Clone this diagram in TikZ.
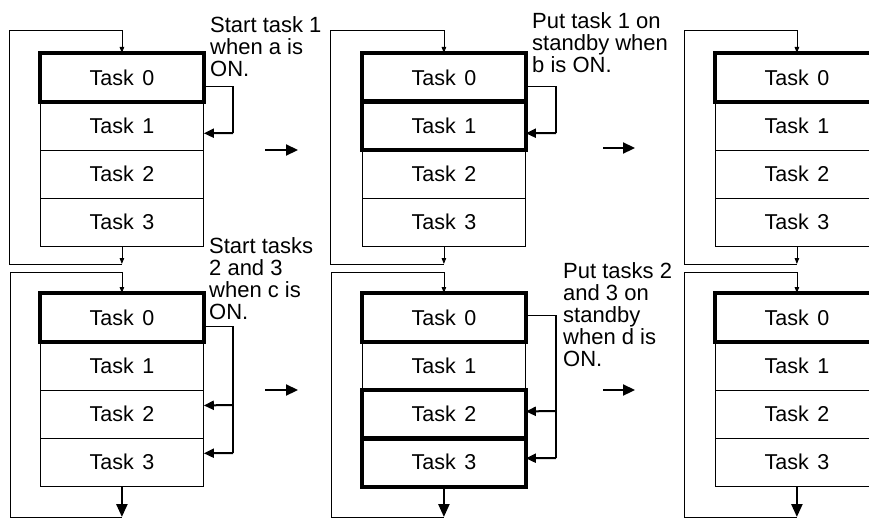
\documentclass[tikz,border=0pt]{standalone}
\usepackage{fontspec}
\setmainfont{Liberation Sans}
\usetikzlibrary{arrows.meta,calc}
\tikzset{
  row/.style={draw,line width=0.8pt,minimum width=163pt,minimum height=48.25pt,inner sep=0pt,anchor=north west,font=\fontsize{21.5}{22}\selectfont},
  activebox/.style={line width=4pt},
  looparr/.style={line width=0.8pt,-{Triangle[length=6pt,width=4.5pt]}},
  sideline/.style={line width=1.1pt},
  trig/.style={line width=2pt,-{Triangle[length=10pt,width=9pt]}},
  nextarr/.style={line width=2.2pt,-{Triangle[length=12pt,width=11pt]}},
  outarr/.style={line width=2.4pt,-{Triangle[length=13pt,width=11pt]}},
  lbl/.style={anchor=north west,inner sep=0pt,align=left,font=\fontsize{22}{22}\selectfont}
}
\newcommand\tblock[3]{%
  \foreach \i in {0,...,3} {\node[row] (#1\i) at ({#2},{#3+\i*48.25}) {Task\ \kern2.5pt\i};}%
}
\begin{document}
\begin{tikzpicture}[x=1pt,y=-1pt]
\fill[white] (0,0) rectangle (869,519);
\useasboundingbox (0,0) rectangle (869,519);

% task blocks
\tblock{A}{40}{53}
\tblock{B}{362}{53}
\tblock{C}{715}{53}
\tblock{D}{40}{293}
\tblock{E}{362}{293}
\tblock{F}{715}{293}

% active tasks
\draw[activebox] (A0.north west) rectangle (A0.south east);
\draw[activebox] (B0.north west) rectangle (B0.south east);
\draw[activebox] (B1.north west) rectangle (B1.south east);
\draw[activebox] (C0.north west) rectangle (C0.south east);
\draw[activebox] (D0.north west) rectangle (D0.south east);
\draw[activebox] (E0.north west) rectangle (E0.south east);
\draw[activebox] (E2.north west) rectangle (E2.south east);
\draw[activebox] (E3.north west) rectangle (E3.south east);
\draw[activebox] (F0.north west) rectangle (F0.south east);

% loop corners
\coordinate (Alb) at (9,264);   \coordinate (Alt) at (9,30.7);
\coordinate (Blb) at (330,264); \coordinate (Blt) at (330,30.7);
\coordinate (Clb) at (684,264); \coordinate (Clt) at (684,30.7);
\coordinate (Dlb) at (10,517);  \coordinate (Dlt) at (10,272);
\coordinate (Elb) at (331,517); \coordinate (Elt) at (331,272);
\coordinate (Flb) at (684,517); \coordinate (Flt) at (684,272);

% top loops
\foreach \n in {A,B,C} {
  \draw[looparr] (\n3.south) -- (\n3.south |- \n lb);
  \draw[looparr] (\n3.south |- \n lb) -- (\n lb) -- (\n lt) -- (\n0.north |- \n lt) -- (\n0.north);
}
% bottom loops
\foreach \n in {D,E,F} {
  \draw[outarr] (\n3.south) -- (\n3.south |- \n lb);
  \draw[looparr] (\n3.south |- \n lb) -- (\n lb) -- (\n lt) -- (\n0.north |- \n lt) -- (\n0.north);
}

% side connectors
\coordinate (Ac) at (233,133);
\draw[sideline] ($(A0.east)+(0,9)$) -| (Ac);
\draw[trig] (Ac) -- ($(A1.east)+(0,7.5)$);

\coordinate (Bc) at (556,133);
\draw[sideline] ($(B0.east)+(0,9)$) -| (Bc);
\draw[trig] (Bc) -- ($(B1.east)+(0,7.5)$);

\coordinate (Dc2) at (233,405); \coordinate (Dc3) at (233,453);
\draw[sideline] ($(D0.east)+(0,9)$) -| (Dc3);
\draw[trig] (Dc2) -- ($(D2.east)+(0,-8.6)$);
\draw[trig] (Dc3) -- ($(D3.east)+(0,-9)$);

\coordinate (Ec2) at (556,411); \coordinate (Ec3) at (556,458);
\draw[sideline] ($(E0.east)+(0,-2)$) -| (Ec3);
\draw[trig] (Ec2) -- ($(E2.east)+(0,-2.6)$);
\draw[trig] (Ec3) -- ($(E3.east)+(0,-4)$);

% transition arrows
\coordinate (T1s) at (265,150); \coordinate (T1e) at (298,150);
\coordinate (T2s) at (603,148); \coordinate (T2e) at (635,148);
\coordinate (T3s) at (265,390); \coordinate (T3e) at (298,390);
\coordinate (T4s) at (603,390); \coordinate (T4e) at (635,390);
\draw[nextarr] (T1s) -- (T1e);
\draw[nextarr] (T2s) -- (T2e);
\draw[nextarr] (T3s) -- (T3e);
\draw[nextarr] (T4s) -- (T4e);

% labels
\node[lbl] (L1) at (210,16.2) {Start task 1\\when a is\\ON.};
\node[lbl] (L2) at (532,12.2) {Put task 1 on\\standby when\\b is ON.};
\node[lbl] (L3) at (209,237.2) {Start tasks\\2 and 3\\when c is\\ON.};
\node[lbl] (L4) at (563,262.2) {Put tasks 2\\and 3 on\\standby\\when d is\\ON.};
\end{tikzpicture}
\end{document}
